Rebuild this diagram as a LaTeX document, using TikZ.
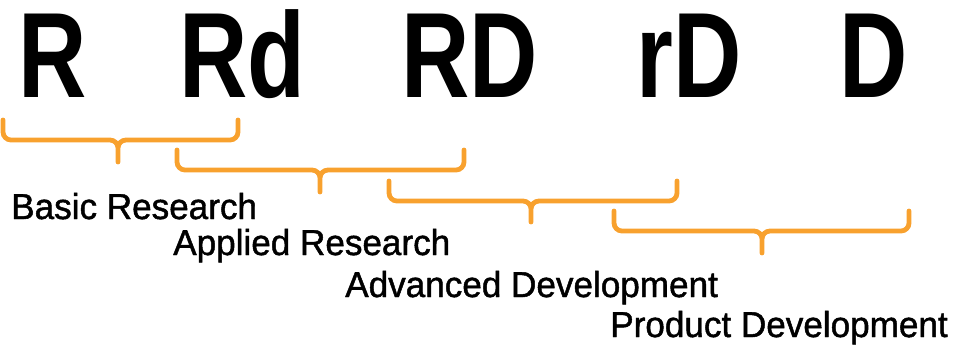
\documentclass[tikz,border=0pt]{standalone}
\usepackage{fontspec}
\usetikzlibrary{positioning}
\newfontfamily\letterfont[FakeStretch=0.78]{Liberation Sans}
\newfontfamily\phasefont[FakeStretch=0.975,FakeBold=1.3]{Liberation Sans}
\definecolor{braceorange}{RGB}{248,161,46}
\begin{document}
\begin{tikzpicture}[x=0.75pt,y=-0.75pt,
  letter/.style={inner sep=0pt,anchor=base,font={\letterfont\bfseries\fontsize{91pt}{91pt}\selectfont}},
  phase/.style={inner sep=0pt,anchor=base west,font={\phasefont\fontsize{27pt}{27pt}\selectfont}},
  bracket/.style={draw=braceorange,line width=3.6pt,rounded corners=6pt,line cap=round}]
  \useasboundingbox (0,0) rectangle (961,351);

  \node[letter] (R) at (52.5,97) {R};
  \node[letter] (Rd) at (242.5,97) {Rd};
  \node[letter] (RD) at (470,97) {RD};
  \node[letter] (rD) at (689.5,97) {rD};
  \node[letter] (D) at (873.5,97) {D};

  \draw[bracket] (3,120)--(3,140)--(118,140)--(118,162) (238,120)--(238,140)--(118,140)--(118,162);
  \draw[bracket] (177,150)--(177,170)--(320,170)--(320,192) (464,150)--(464,170)--(320,170)--(320,192);
  \draw[bracket] (389,181)--(389,201)--(531,201)--(531,222) (677,181)--(677,201)--(531,201)--(531,222);
  \draw[bracket] (614,211)--(614,231)--(762,231)--(762,253) (909,211)--(909,231)--(762,231)--(762,253);

  \node[phase] (basic) at (11,219) {Basic Research};
  \node[phase] (applied) at (173,255) {Applied Research};
  \node[phase] (advanced) at (345,297) {Advanced Development};
  \node[phase] (product) at (610,337) {Product Development};
\end{tikzpicture}
\end{document}
